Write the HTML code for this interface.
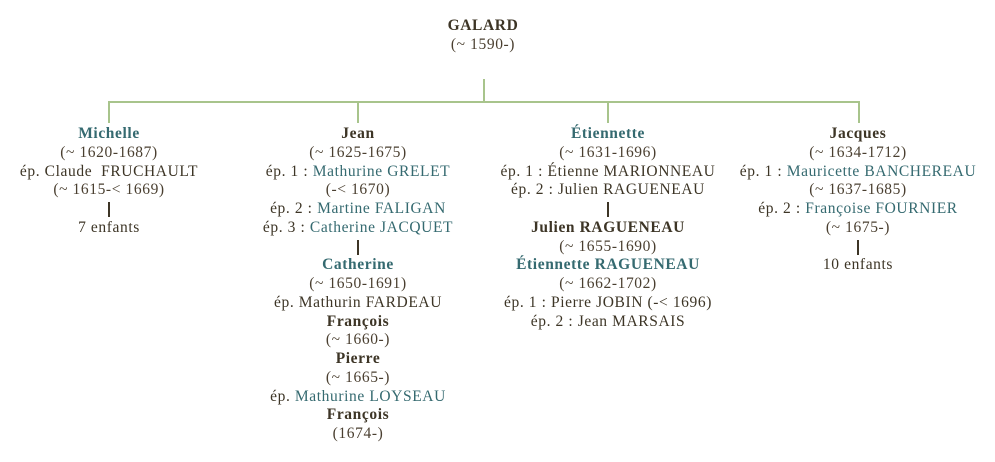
<!DOCTYPE html>
<html><head><meta charset="utf-8"><style>
body{margin:0;width:995px;height:462px;background:#fff;overflow:hidden;position:relative;font-family:"Liberation Serif",serif;font-size:15.5px;letter-spacing:0.6px;color:#3d3526}
.col{position:absolute;width:300px;text-align:center;line-height:18.75px;white-space:nowrap}
.t{color:#356a70}
b{font-weight:bold}
.d{color:#4a3f30}
.bar{height:18.75px;position:relative}
.bar:after{content:"";position:absolute;left:149px;top:2px;width:2px;height:15px;background:#3d3526}
.g{position:absolute;background:#a8c48c}
</style></head><body>
<div class="col" style="left:333px;top:17px"><b>GALARD</b><br><span class="d">(~ 1590-)</span></div>
<div class="g" style="left:483px;top:79px;width:2px;height:23px"></div>
<div class="g" style="left:108px;top:101px;width:752px;height:2px"></div>
<div class="g" style="left:108px;top:101px;width:2px;height:22px"></div>
<div class="g" style="left:357px;top:101px;width:2px;height:22px"></div>
<div class="g" style="left:607px;top:101px;width:2px;height:22px"></div>
<div class="g" style="left:858px;top:101px;width:2px;height:22px"></div>

<div class="col" style="left:-41px;top:125px">
<b class="t">Michelle</b><br><span class="d">(~ 1620-1687)</span><br>ép. Claude&nbsp; FRUCHAULT<br><span class="d">(~ 1615-&lt; 1669)</span><div class="bar"></div>7 enfants</div>

<div class="col" style="left:208px;top:125px">
<b>Jean</b><br><span class="d">(~ 1625-1675)</span><br>ép. 1 : <span class="t">Mathurine GRELET</span><br><span class="d">(-&lt; 1670)</span><br>ép. 2 : <span class="t">Martine FALIGAN</span><br>ép. 3 : <span class="t">Catherine JACQUET</span><div class="bar"></div><b class="t">Catherine</b><br><span class="d">(~ 1650-1691)</span><br>ép. Mathurin FARDEAU<br><b>François</b><br><span class="d">(~ 1660-)</span><br><b>Pierre</b><br><span class="d">(~ 1665-)</span><br>ép. <span class="t">Mathurine LOYSEAU</span><br><b>François</b><br><span class="d">(1674-)</span></div>

<div class="col" style="left:458px;top:125px">
<b class="t">Étiennette</b><br><span class="d">(~ 1631-1696)</span><br>ép. 1 : Étienne MARIONNEAU<br>ép. 2 : Julien RAGUENEAU<div class="bar"></div><b>Julien RAGUENEAU</b><br><span class="d">(~ 1655-1690)</span><br><b class="t">Étiennette RAGUENEAU</b><br><span class="d">(~ 1662-1702)</span><br>ép. 1 : Pierre JOBIN (-&lt; 1696)<br>ép. 2 : Jean MARSAIS</div>

<div class="col" style="left:708px;top:125px">
<b>Jacques</b><br><span class="d">(~ 1634-1712)</span><br>ép. 1 : <span class="t">Mauricette BANCHEREAU</span><br><span class="d">(~ 1637-1685)</span><br>ép. 2 : <span class="t">Françoise FOURNIER</span><br><span class="d">(~ 1675-)</span><div class="bar"></div>10 enfants</div>
</body></html>
